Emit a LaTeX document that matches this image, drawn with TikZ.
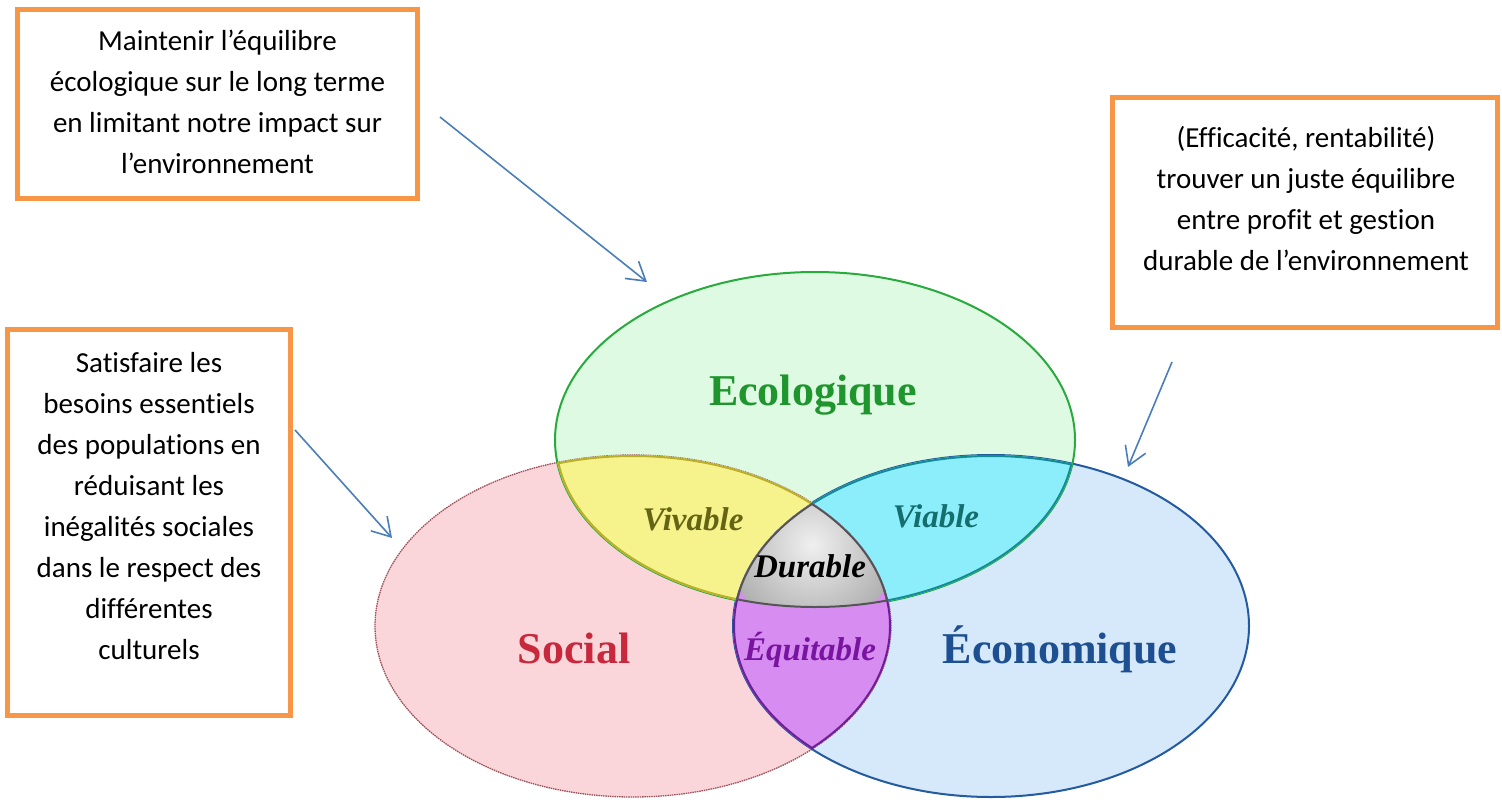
\documentclass[tikz,border=0pt]{standalone}
\usepackage{fontspec}
\setmainfont{Liberation Serif}
\newfontfamily\calib[Ligatures=NoCommon]{Carlito}
\usetikzlibrary{arrows.meta}
\definecolor{boxor}{RGB}{247,150,70}
\definecolor{arrblue}{RGB}{74,126,187}
\definecolor{fillG}{RGB}{222,250,226}
\definecolor{fillR}{RGB}{250,214,218}
\definecolor{fillB}{RGB}{214,233,250}
\definecolor{lineG}{RGB}{40,170,60}
\definecolor{lineR}{RGB}{160,80,90}
\definecolor{lineB}{RGB}{35,90,160}
\definecolor{fillY}{RGB}{246,242,140}
\definecolor{lineY}{RGB}{185,175,40}
\definecolor{fillC}{RGB}{140,238,250}
\definecolor{lineC}{RGB}{20,140,150}
\definecolor{fillP}{RGB}{214,140,240}
\definecolor{lineP}{RGB}{110,30,150}
\definecolor{lineK}{RGB}{85,85,85}
\definecolor{txtG}{RGB}{30,150,45}
\definecolor{txtR}{RGB}{200,40,60}
\definecolor{txtB}{RGB}{30,80,145}
\definecolor{txtY}{RGB}{100,100,20}
\definecolor{txtC}{RGB}{20,110,110}
\definecolor{txtP}{RGB}{120,20,160}
\tikzset{
  box/.style={draw=boxor, line width=5pt, fill=white, rectangle, inner sep=0pt},
  btxt/.style={font=\calib\fontsize{29}{41}\selectfont, align=center, inner sep=0pt},
  arr/.style={draw=arrblue, line width=1.6pt, -{Straight Barb[length=18pt,width=22pt,line width=1.6pt]}},
  bigl/.style={font=\bfseries\fontsize{44}{50}\selectfont, anchor=base, inner sep=0pt},
  smalll/.style={font=\bfseries\itshape\fontsize{33}{38}\selectfont, anchor=base, inner sep=0pt}
}
\begin{document}
\begin{tikzpicture}[x=1pt,y=-1pt]
\useasboundingbox (0,0) rectangle (1502,800);
\fill[white] (0,0) rectangle (1502,800);
% base ellipses
\fill[fillR] (633,626) ellipse [x radius=258pt, y radius=171pt];
\fill[fillB] (991,626) ellipse [x radius=258pt, y radius=171pt];
\fill[fillG] (815,440) ellipse [x radius=260pt, y radius=168pt];
\draw[lineR, line width=1.3pt, dash pattern=on 1.5pt off 0.8pt] (633,626) ellipse [x radius=258pt, y radius=171pt];
\draw[lineB, line width=2pt] (991,626) ellipse [x radius=258pt, y radius=171pt];
\draw[lineG, line width=2pt] (815,440) ellipse [x radius=260pt, y radius=168pt];
% yellow: green & red
\begin{scope}
\clip (815,440) ellipse [x radius=260pt, y radius=168pt];
\clip (633,626) ellipse [x radius=258pt, y radius=171pt];
\fill[fillY] (0,0) rectangle (1502,800);
\draw[lineY, line width=4pt] (815,440) ellipse [x radius=260pt, y radius=168pt];
\draw[lineY, line width=4pt] (633,626) ellipse [x radius=258pt, y radius=171pt];
\end{scope}
% cyan: green & blue
\begin{scope}
\clip (815,440) ellipse [x radius=260pt, y radius=168pt];
\clip (991,626) ellipse [x radius=258pt, y radius=171pt];
\fill[fillC] (0,0) rectangle (1502,800);
\draw[lineC, line width=4pt] (815,440) ellipse [x radius=260pt, y radius=168pt];
\draw[lineC, line width=4pt] (991,626) ellipse [x radius=258pt, y radius=171pt];
\end{scope}
% purple: red & blue
\begin{scope}
\clip (633,626) ellipse [x radius=258pt, y radius=171pt];
\clip (991,626) ellipse [x radius=258pt, y radius=171pt];
\fill[fillP] (0,0) rectangle (1502,800);
\draw[lineP, line width=4pt] (633,626) ellipse [x radius=258pt, y radius=171pt];
\draw[lineP, line width=4pt] (991,626) ellipse [x radius=258pt, y radius=171pt];
\end{scope}
% gray: all three
\begin{scope}
\clip (815,440) ellipse [x radius=260pt, y radius=168pt];
\clip (633,626) ellipse [x radius=258pt, y radius=171pt];
\clip (991,626) ellipse [x radius=258pt, y radius=171pt];
\shade[inner color=gray!12, outer color=gray!62] (812,545) circle [radius=85pt];
\draw[lineK, line width=4pt] (815,440) ellipse [x radius=260pt, y radius=168pt];
\draw[lineK, line width=4pt] (633,626) ellipse [x radius=258pt, y radius=171pt];
\draw[lineK, line width=4pt] (991,626) ellipse [x radius=258pt, y radius=171pt];
\end{scope}
% labels
\node[bigl, text=txtG] (eco) at (813,405) {Ecologique};
\node[bigl, text=txtR] (soc) at (574,663) {Social};
\node[bigl, text=txtB] (econ) at (1060,663) {Économique};
\node[smalll, text=txtY] (viv) at (693,530) {Vivable};
\node[smalll, text=txtC] (via) at (936,527) {Viable};
\node[smalll, text=black] (dur) at (810,577) {Durable};
\node[smalll, text=txtP] (equ) at (810,660) {Équitable};
% boxes
\node[box, minimum width=400pt, minimum height=189pt] (b1) at (217.5,104) {};
\node[btxt] (t1) at (217.5,102) {Maintenir l’équilibre\\écologique sur le long terme\\en limitant notre impact sur\\l’environnement};
\node[box, minimum width=385pt, minimum height=230pt] (b2) at (1305,212.5) {};
\node[btxt] (t2) at (1306,198) {(Efficacité, rentabilité)\\trouver un juste équilibre\\entre profit et gestion\\durable de l’environnement};
\node[box, minimum width=283pt, minimum height=386pt] (b3) at (149,522.5) {};
\node[btxt] (t3) at (149,506) {Satisfaire les\\besoins essentiels\\des populations en\\réduisant les\\inégalités sociales\\dans le respect des\\différentes\\culturels};
% arrows
\coordinate (a1s) at (440,117);
\coordinate (a1e) at (647,282);
\coordinate (a2s) at (295,430);
\coordinate (a2e) at (392,538);
\coordinate (a3s) at (1172,362);
\coordinate (a3e) at (1128,467);
\draw[arr] (a1s) -- (a1e);
\draw[arr] (a2s) -- (a2e);
\draw[arr] (a3s) -- (a3e);
\end{tikzpicture}
\end{document}
